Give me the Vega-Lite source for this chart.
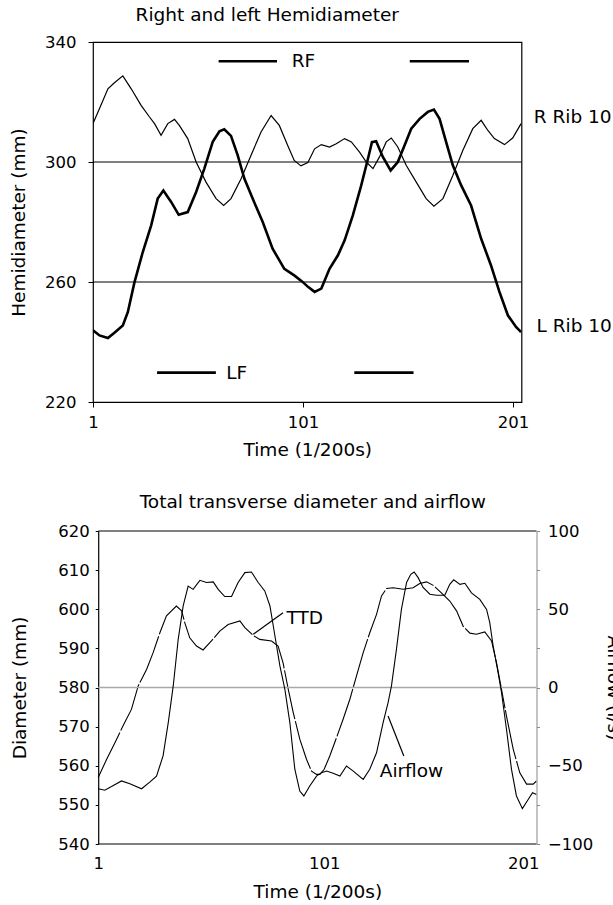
{
"$schema": "https://vega.github.io/schema/vega-lite/v6.json",
"padding": {"left": 8, "top": 4, "right": 0, "bottom": 0},
"spacing": 32,
"datasets": {
"rrib": [{"t":1,"v":312.8},{"t":4.1,"v":317.8},{"t":8.1,"v":324.4},{"t":11.2,"v":326.4},{"t":15.2,"v":328.7},{"t":19.2,"v":324.4},{"t":23.9,"v":318.9},{"t":27.9,"v":315},{"t":30.3,"v":312.8},{"t":33.4,"v":308.9},{"t":36.6,"v":312.8},{"t":39.8,"v":314.2},{"t":42.1,"v":312.2},{"t":46.1,"v":307.8},{"t":50.1,"v":300},{"t":54.8,"v":293.3},{"t":59.6,"v":287.8},{"t":63.2,"v":285.5},{"t":66.7,"v":287.8},{"t":71.5,"v":294.4},{"t":76.2,"v":302.2},{"t":81,"v":310},{"t":85.8,"v":315.5},{"t":89.7,"v":312.2},{"t":93.7,"v":305.5},{"t":96.8,"v":300.5},{"t":100,"v":298.7},{"t":103.3,"v":299.8},{"t":106.5,"v":304.4},{"t":109.7,"v":305.8},{"t":113.6,"v":305},{"t":116.8,"v":306.1},{"t":120.8,"v":307.8},{"t":124,"v":306.7},{"t":127.9,"v":303.3},{"t":131.1,"v":300},{"t":134.3,"v":297.8},{"t":137.4,"v":301.7},{"t":140.6,"v":306.7},{"t":143,"v":308},{"t":146.1,"v":305},{"t":150.1,"v":298.9},{"t":154.9,"v":293.3},{"t":159.6,"v":287.8},{"t":163.3,"v":285.3},{"t":167.6,"v":287.8},{"t":172.3,"v":295.5},{"t":177.1,"v":303.9},{"t":181.8,"v":311.1},{"t":185.8,"v":313.9},{"t":189,"v":310.5},{"t":192.1,"v":307.8},{"t":196.9,"v":305.8},{"t":200.8,"v":308},{"t":204.8,"v":312.8}],
"lrib": [{"t":1,"v":243.9},{"t":4.1,"v":242.2},{"t":8.1,"v":241.3},{"t":11.2,"v":243.1},{"t":15.2,"v":245.5},{"t":17.6,"v":250},{"t":20.7,"v":259.8},{"t":24.7,"v":270},{"t":28.7,"v":278.9},{"t":31.8,"v":287.8},{"t":34.5,"v":290.5},{"t":38.2,"v":286.7},{"t":41.8,"v":282.4},{"t":46.1,"v":283.3},{"t":50.1,"v":290},{"t":54,"v":297.8},{"t":58,"v":306.7},{"t":61.2,"v":310.2},{"t":63.5,"v":310.9},{"t":66.7,"v":308.7},{"t":69.9,"v":302.2},{"t":73.1,"v":294.4},{"t":77,"v":287.8},{"t":81.8,"v":280},{"t":86.5,"v":271.1},{"t":92.1,"v":264.4},{"t":96.8,"v":262.2},{"t":100.5,"v":260.2},{"t":103.5,"v":258.3},{"t":106.5,"v":256.7},{"t":109.7,"v":257.8},{"t":113.6,"v":264.4},{"t":117.6,"v":268.9},{"t":120.8,"v":273.9},{"t":124.7,"v":282.2},{"t":128.7,"v":292.2},{"t":131.9,"v":301.1},{"t":133.8,"v":306.6},{"t":135.8,"v":306.9},{"t":139,"v":301.7},{"t":142.7,"v":297.2},{"t":146.1,"v":300},{"t":149.3,"v":305.5},{"t":152.5,"v":311.1},{"t":156.5,"v":314.4},{"t":160.4,"v":316.7},{"t":163.3,"v":317.5},{"t":166,"v":314.4},{"t":169.1,"v":306.7},{"t":172.3,"v":298.9},{"t":176.3,"v":292.2},{"t":181,"v":285.5},{"t":185.8,"v":274.4},{"t":190.5,"v":265.5},{"t":194.5,"v":256.7},{"t":198.5,"v":248.9},{"t":202.4,"v":245},{"t":204.8,"v":243.3}],
"segs": [{"t1":60.8,"t2":88.6,"v":333.6},{"t1":151.8,"t2":180,"v":333.6},{"t1":31.5,"t2":59.5,"v":229.8},{"t1":125.4,"t2":153.6,"v":229.8}],
"toplabels": [{"t":94.2,"v":333.6,"label":"RF"},{"t":63,"v":229.8,"label":"LF"},{"t":209.4,"v":315,"label":"R Rib 10"},{"t":210.7,"v":245.3,"label":"L Rib 10"}],
"ttd": [{"t":1,"v":557},{"t":4.7,"v":561.6},{"t":8.4,"v":565.9},{"t":12,"v":570.2},{"t":15.7,"v":574.4},{"t":18.7,"v":580.4},{"t":22.4,"v":584.6},{"t":25.3,"v":588.9},{"t":28.3,"v":594},{"t":31.2,"v":598.3},{"t":35.6,"v":600.8},{"t":37.9,"v":599.6},{"t":39.3,"v":596.6},{"t":41.5,"v":592.7},{"t":44.5,"v":590.6},{"t":47.4,"v":589.6},{"t":51.1,"v":591.9},{"t":54.8,"v":594.4},{"t":58.5,"v":596.1},{"t":63.7,"v":597},{"t":65.9,"v":595.3},{"t":69.6,"v":593.3},{"t":72.5,"v":592.3},{"t":77.7,"v":591.9},{"t":80.6,"v":590.6},{"t":82.8,"v":586.3},{"t":85.1,"v":579.5},{"t":87.3,"v":573.6},{"t":90.2,"v":566.8},{"t":93.2,"v":561.6},{"t":95.4,"v":558.6},{"t":97.6,"v":557.8},{"t":99.1,"v":557.8},{"t":101,"v":559.1},{"t":103.8,"v":562.5},{"t":107.2,"v":567.2},{"t":110.5,"v":571.9},{"t":113.9,"v":577},{"t":117.2,"v":582.9},{"t":120.6,"v":588.9},{"t":123.9,"v":594},{"t":127.3,"v":598.7},{"t":129.8,"v":603.4},{"t":132.3,"v":605.3},{"t":135.7,"v":605.5},{"t":140.7,"v":605.1},{"t":145.7,"v":605.5},{"t":149,"v":606.6},{"t":152.4,"v":607},{"t":155.8,"v":606.1},{"t":159.9,"v":604.2},{"t":164.1,"v":602.1},{"t":167.5,"v":599.6},{"t":170.8,"v":595.7},{"t":174.2,"v":593.9},{"t":177.5,"v":593.6},{"t":181.7,"v":594.2},{"t":185.1,"v":591.9},{"t":187.6,"v":586.3},{"t":190.1,"v":579.5},{"t":192.6,"v":572.7},{"t":196,"v":564.2},{"t":199.3,"v":558.2},{"t":202.7,"v":555.3},{"t":206,"v":555.3},{"t":207.7,"v":556.1}],
"airflow": [{"t":1,"v":-64.7},{"t":3.9,"v":-65.6},{"t":6.9,"v":-63.3},{"t":11.3,"v":-59.7},{"t":15,"v":-61.5},{"t":20.2,"v":-64.7},{"t":23.8,"v":-60.5},{"t":26.8,"v":-56.6},{"t":29.7,"v":-43.7},{"t":32,"v":-22.4},{"t":34.2,"v":1},{"t":36.4,"v":30.8},{"t":38.6,"v":52.1},{"t":40.8,"v":64.8},{"t":43,"v":62.7},{"t":46,"v":68.5},{"t":48.9,"v":67.1},{"t":51.9,"v":67.5},{"t":54.1,"v":62.7},{"t":57,"v":58.1},{"t":60,"v":58.1},{"t":62.9,"v":67.1},{"t":65.9,"v":73.4},{"t":68.8,"v":73.8},{"t":71.8,"v":67.1},{"t":74.7,"v":61.7},{"t":77,"v":52.1},{"t":79.2,"v":32.9},{"t":81.4,"v":13.8},{"t":83.6,"v":-1.2},{"t":85.8,"v":-22.4},{"t":88,"v":-52.2},{"t":90.2,"v":-66.2},{"t":92,"v":-69.3},{"t":94.6,"v":-62.9},{"t":97.6,"v":-56.6},{"t":99.8,"v":-54.4},{"t":102.2,"v":-53.4},{"t":105.5,"v":-54.8},{"t":108.9,"v":-56.6},{"t":112.2,"v":-50.2},{"t":115.6,"v":-53.4},{"t":120.6,"v":-58.7},{"t":123.9,"v":-52.2},{"t":127.3,"v":-41.7},{"t":130.6,"v":-22.4},{"t":133.1,"v":-9.7},{"t":134.8,"v":1},{"t":137.3,"v":24.4},{"t":139.8,"v":49.9},{"t":142.4,"v":67.1},{"t":144.5,"v":72.3},{"t":146.2,"v":73.8},{"t":148.2,"v":70.2},{"t":150.7,"v":63.9},{"t":154.1,"v":59.6},{"t":157.4,"v":58.9},{"t":161.6,"v":58.9},{"t":164.1,"v":65.9},{"t":166.1,"v":68.8},{"t":169.2,"v":65.9},{"t":171.7,"v":66.6},{"t":175,"v":60.5},{"t":179.2,"v":56.3},{"t":182.6,"v":49.9},{"t":184.2,"v":41.4},{"t":185.9,"v":26.5},{"t":188.4,"v":9.5},{"t":190.1,"v":-3.2},{"t":192.6,"v":-26.7},{"t":195.1,"v":-52.2},{"t":197.6,"v":-69.3},{"t":200.6,"v":-77.4},{"t":203.5,"v":-71.6},{"t":205.7,"v":-67.2},{"t":207.7,"v":-68.3}],
"pointers": [{"t1":82.8,"v1":599.1,"t2":69.6,"v2":593.6},{"t1":141,"v1":562.5,"t2":133.1,"v2":572.7}],
"botlabels": [{"t":84.3,"v":597.8,"label":"TTD"},{"t":128.9,"v":558.7,"label":"Airflow"}]
},
"vconcat": [
{
"width": 428.5, "height": 360,
"title": {"text": "Right and left Hemidiameter", "dx": -40, "offset": 10},
"view": {"stroke": "#000", "strokeWidth": 1.2},
"layer": [
{"data": {"name": "rrib"}, "mark": {"type": "line", "strokeWidth": 1.2, "clip": true},
 "encoding": {
  "x": {"field": "t", "type": "quantitative", "scale": {"domain": [1, 205], "nice": false, "zero": false},
        "axis": {"values": [1, 101, 201], "tickSize": 5, "domain": false, "labelPadding": 7, "title": "Time (1/200s)", "titlePadding": 10}},
  "y": {"field": "v", "type": "quantitative", "scale": {"domain": [220, 340], "nice": false, "zero": false},
        "axis": {"values": [220, 260, 300, 340], "tickSize": 5, "domain": false, "labelPadding": 12, "title": "Hemidiameter (mm)", "titlePadding": 16}}
 }},
{"data": {"name": "lrib"}, "mark": {"type": "line", "strokeWidth": 2.6, "clip": true},
 "encoding": {"x": {"field": "t", "type": "quantitative"}, "y": {"field": "v", "type": "quantitative"}}},
{"data": {"values": [{"v": 300}, {"v": 260}]}, "mark": {"type": "rule", "strokeWidth": 1.2},
 "encoding": {"y": {"field": "v", "type": "quantitative"}}},
{"data": {"name": "segs"}, "mark": {"type": "rule", "strokeWidth": 2.6},
 "encoding": {"x": {"field": "t1", "type": "quantitative"}, "x2": {"field": "t2"}, "y": {"field": "v", "type": "quantitative"}}},
{"data": {"name": "toplabels"}, "mark": {"type": "text", "align": "left", "baseline": "middle", "dx": 3},
 "encoding": {"x": {"field": "t", "type": "quantitative"}, "y": {"field": "v", "type": "quantitative"}, "text": {"field": "label"}}}
]
},
{
"width": 443.5, "height": 313,
"title": {"text": "Total transverse diameter and airflow", "dx": -2, "offset": 12},
"view": {"stroke": null},
"resolve": {"scale": {"y": "independent"}},
"layer": [
{"layer": [
 {"data": {"name": "ttd"}, "mark": {"type": "line", "strokeWidth": 1.1, "strokeDash": [50, 2], "clip": true},
  "encoding": {
   "x": {"field": "t", "type": "quantitative", "scale": {"domain": [1, 101, 201, 207.7], "range": [5.2, 231.2, 430.2, 443.5], "nice": false, "zero": false},
         "axis": {"values": [1, 101, 201], "ticks": false, "domain": false, "labelPadding": 11, "title": "Time (1/200s)", "titlePadding": 11}},
   "y": {"field": "v", "type": "quantitative", "scale": {"domain": [540, 620], "nice": false, "zero": false},
         "axis": {"values": [540, 550, 560, 570, 580, 590, 600, 610, 620], "offset": -5.2, "labelOverlap": false, "tickSize": 3, "domainWidth": 1.2, "labelPadding": 6, "title": "Diameter (mm)", "titlePadding": 28}}
  }},
 {"data": {"values": [{"v": 580}]}, "mark": {"type": "rule", "color": "#a8a8a8", "strokeWidth": 1.5},
  "encoding": {"y": {"field": "v", "type": "quantitative", "axis": {"values": [540, 550, 560, 570, 580, 590, 600, 610, 620], "offset": -5.2, "labelOverlap": false, "tickSize": 3, "domainWidth": 1.2, "labelPadding": 6, "title": "Diameter (mm)", "titlePadding": 28}}, "x": {"datum": 1}, "x2": {"datum": 207.7}}},
 {"data": {"values": [{"v": 540}, {"v": 620}]}, "mark": {"type": "rule", "strokeWidth": 1.2},
  "encoding": {"y": {"field": "v", "type": "quantitative", "axis": {"values": [540, 550, 560, 570, 580, 590, 600, 610, 620], "offset": -5.2, "labelOverlap": false, "tickSize": 3, "domainWidth": 1.2, "labelPadding": 6, "title": "Diameter (mm)", "titlePadding": 28}}, "x": {"datum": 1}, "x2": {"datum": 207.7}}},
 {"data": {"name": "pointers"}, "mark": {"type": "rule", "strokeWidth": 1.2},
  "encoding": {"x": {"field": "t1", "type": "quantitative"}, "y": {"field": "v1", "type": "quantitative", "axis": {"values": [540, 550, 560, 570, 580, 590, 600, 610, 620], "offset": -5.2, "labelOverlap": false, "tickSize": 3, "domainWidth": 1.2, "labelPadding": 6, "title": "Diameter (mm)", "titlePadding": 28}}, "x2": {"field": "t2"}, "y2": {"field": "v2"}}},
 {"data": {"name": "botlabels"}, "mark": {"type": "text", "align": "left", "baseline": "middle"},
  "encoding": {"x": {"field": "t", "type": "quantitative"}, "y": {"field": "v", "type": "quantitative", "axis": {"values": [540, 550, 560, 570, 580, 590, 600, 610, 620], "offset": -5.2, "labelOverlap": false, "tickSize": 3, "domainWidth": 1.2, "labelPadding": 6, "title": "Diameter (mm)", "titlePadding": 28}}, "text": {"field": "label"}}}
]},
{"data": {"name": "airflow"}, "mark": {"type": "line", "strokeWidth": 1.1, "clip": true},
 "encoding": {
  "x": {"field": "t", "type": "quantitative"},
  "y": {"field": "v", "type": "quantitative", "scale": {"domain": [-100, 100], "nice": false, "zero": false},
        "axis": {"orient": "right", "values": [-100, -75, -50, -25, 0, 25, 50, 75, 100], "labelOverlap": false, "labelExpr": "datum.value % 50 === 0 ? datum.label : ''", "tickSize": 3, "domainColor": "#888888", "tickColor": "#888888", "labelPadding": 8, "title": "Airflow (l/s)", "titlePadding": 11}}
 }}
]
}
],
"config": {
 "font": "DejaVu Sans",
 "axis": {"grid": false, "labelColor": "#000", "titleColor": "#000", "labelFontSize": 16.5, "titleFontSize": 18.5, "titleFontWeight": "normal", "domainColor": "#000", "tickColor": "#000", "labelFlush": false, "labelOverlap": false},
 "title": {"fontSize": 18.5, "fontWeight": "normal", "color": "#000"},
 "text": {"fontSize": 18.5, "color": "#000"},
 "line": {"color": "#000"},
 "rule": {"color": "#000"}
}
}
